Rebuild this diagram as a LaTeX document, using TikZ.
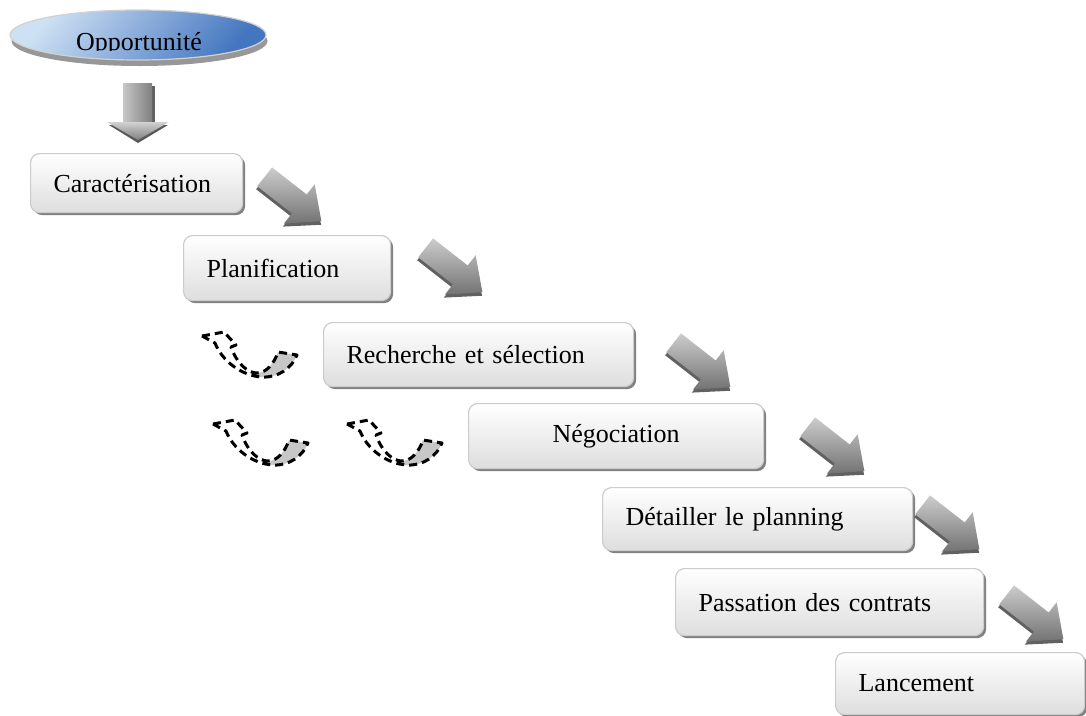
\documentclass[tikz,border=0pt]{standalone}
\usepackage{fontspec}
\setmainfont{Liberation Serif}
\usetikzlibrary{shapes.geometric,shadows}
\definecolor{skylight}{RGB}{206,225,244}
\definecolor{skydark}{RGB}{68,118,192}
\tikzset{
  lbl/.style={font=\fontsize{26}{30}\selectfont},
  stepbox/.style={lbl, draw=black!20, line width=1.2pt, rounded corners=9pt,
    top color=white, bottom color=black!13, inner xsep=23pt, inner ysep=0pt,
    align=left, anchor=north west, text width=#1,
    drop shadow={shadow xshift=2.5pt, shadow yshift=-2.5pt, fill=black!55, opacity=0.9}},
  % grey block arrow, centred on its origin, pointing along +x
  diagarrow/.pic={
    \fill[black!62] (-35,-9) -- (9,-9) -- (9,-21) -- (38,3) -- (9,28) -- (9,15) -- (-35,15) -- cycle;
    \shade[top color=black!20, bottom color=black!55]
      (-36,-12) -- (8,-12) -- (8,-25) -- (36,0) -- (8,25) -- (8,12) -- (-36,12) -- cycle;
  },
  % dashed curved arrow, origin at its left wing
  loopback/.style={black, line width=3pt, dash pattern=on 8pt off 5pt, line join=round},
  curvedback/.pic={
    \begin{scope}
      \clip (0,0) -- (22,-4) -- (34,9) -- (29,11) .. controls (35,28) and (46,37) .. (55,37)
        .. controls (64,37) and (72,28) .. (76,16) -- (95,19) .. controls (90,32) and (76,42) .. (60,41)
        .. controls (40,40) and (20,25) .. (13,7) -- cycle;
      \fill[black!22] (50,-10) rectangle (100,50);
    \end{scope}
    \draw[loopback] (0,0) -- (22,-4) -- (34,9) -- (29,11) .. controls (35,28) and (46,37) .. (55,37)
        .. controls (64,37) and (72,28) .. (76,16) -- (95,19) .. controls (90,32) and (76,42) .. (60,41)
        .. controls (40,40) and (20,25) .. (13,7) -- cycle;
  }
}
\begin{document}
\begin{tikzpicture}[x=1pt,y=-1pt]
\useasboundingbox (0,0) rectangle (1086,715);

% start ellipse
\node[ellipse, minimum width=256pt, minimum height=50pt, draw=black!18, line width=1.2pt,
      top color=skylight, bottom color=skydark, shading angle=50,
      drop shadow={shadow xshift=1.5pt, shadow yshift=-6pt, fill=black!45, opacity=0.9}]
      (opp) at (138,35) {};
\begin{scope}
  \clip (0,0) rectangle (300,50.5);
  \node[lbl, anchor=base, inner sep=0pt] (opplabel) at (139,50) {Opportunité};
\end{scope}

% downward block arrow
\fill[black!62] (152,86) rectangle (155,122);
\shade[left color=black!22, right color=black!50] (123,83) rectangle (152,122);
\fill[black!65] (109,125) -- (168,125) -- (138,143) -- cycle;
\shade[top color=black!18, bottom color=black!50] (107,122) -- (169,122) -- (138,140) -- cycle;

% process steps
\node[stepbox=166pt, minimum height=59pt] (s1) at (30,153) {Caractérisation};
\node[stepbox=161pt, minimum height=65pt] (s2) at (183,235) {Planification};
\node[stepbox=264pt, minimum height=64pt] (s3) at (323,322) {Recherche et sélection};
\node[stepbox=249pt, minimum height=65pt, align=center] (s4) at (468,403) {Négociation};
\node[stepbox=264pt, minimum height=63pt] (s5) at (602,487) {Détailler le planning};
\node[stepbox=262pt, minimum height=67pt] (s6) at (675,568) {Passation des contrats};
\node[stepbox=203pt, minimum height=62pt] (s7) at (835,652) {Lancement};

% arrows between steps
\pic[rotate=-38] at (293,199) {diagarrow};
\pic[rotate=-38] at (454,270) {diagarrow};
\pic[rotate=-38] at (702,365) {diagarrow};
\pic[rotate=-38] at (836,449) {diagarrow};
\pic[rotate=-38] at (951,527) {diagarrow};
\pic[rotate=-38] at (1035,617) {diagarrow};

% dashed return arrows
\pic at (202,336) {curvedback};
\pic at (213,424) {curvedback};
\pic at (347,424) {curvedback};
\end{tikzpicture}
\end{document}
